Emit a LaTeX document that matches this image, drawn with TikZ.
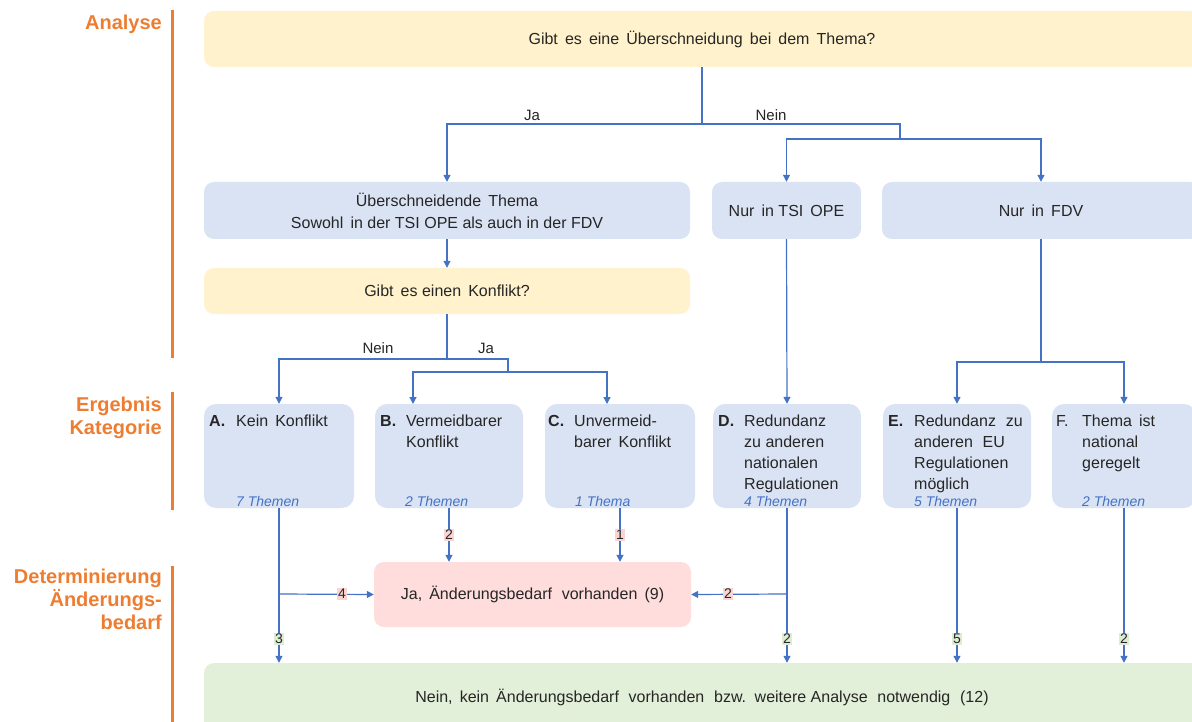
\documentclass[tikz,border=0pt]{standalone}
\usepackage{fontspec}
\setmainfont{Liberation Sans}
\usetikzlibrary{arrows.meta}
\definecolor{orangeL}{HTML}{ED7D31}
\definecolor{yellowF}{HTML}{FFF2CC}
\definecolor{blueF}{HTML}{DAE3F3}
\definecolor{pinkF}{HTML}{FFDDDD}
\definecolor{greenF}{HTML}{E2F0D9}
\definecolor{pinkN}{HTML}{FAD4D2}
\definecolor{greenN}{HTML}{DDEDD3}
\definecolor{lineB}{HTML}{4472C4}
\definecolor{txt}{HTML}{262626}
\begin{document}
\begin{tikzpicture}[x=1pt,y=-1pt,
  box/.style={rounded corners=10pt, inner sep=0pt, text=txt, align=center, font=\fontsize{16}{22}\selectfont},
  catbox/.style={rounded corners=12pt, inner sep=0pt, fill=blueF, minimum height=104pt},
  cattext/.style={anchor=north west, inner sep=0pt, align=left, text=txt, font=\fontsize{16}{21}\selectfont},
  catletter/.style={anchor=base west, inner sep=0pt, text=txt, font=\bfseries\fontsize{16}{21}\selectfont},
  themen/.style={anchor=base west, inner sep=0pt, text=lineB, font=\itshape\fontsize{14}{16}\selectfont},
  conn/.style={draw=lineB, line width=1.2pt},
  arr/.style={conn, -{Triangle[length=7pt,width=7pt]}},
  lbl/.style={font=\fontsize{15}{17}\selectfont, text=txt, inner sep=0pt},
  num/.style={font=\fontsize{14}{16}\selectfont, text=txt, inner sep=0.8pt},
  numR/.style={num, fill=pinkN},
  numG/.style={num, fill=greenN},
  sect/.style={anchor=north east, inner sep=0pt, align=right, text=orangeL, font=\bfseries\fontsize{20}{23}\selectfont},
  bar/.style={draw=orangeL, line width=3pt}
]
\useasboundingbox (0,0) rectangle (1192,722);
\clip (0,0) rectangle (1192,722);
\fill[white] (0,0) rectangle (1192,722);

% section labels
\node[sect] (S1) at (162,14) {\rule{0pt}{15pt}Analyse};
\node[sect] (S2) at (162,396) {\rule{0pt}{15pt}Ergebnis\\Kategorie};
\node[sect] (S3) at (162,568) {\rule{0pt}{15pt}Determinierung\\Änderungs-\\bedarf};
\draw[bar] (172,10) -- (172,358);
\draw[bar] (172,392) -- (172,510);
\draw[bar] (172,566) -- (172,730);

% main boxes
\node[box, fill=yellowF, minimum width=996pt, minimum height=56pt] (Q1) at (702,39) {Gibt\, es\, eine\, Überschneidung\, bei\, dem\, Thema?};
\node[box, fill=blueF, minimum width=486pt, minimum height=57pt] (U) at (447,210.5) {Überschneidende\, Thema\\Sowohl\, in der TSI OPE als auch in der FDV};
\node[box, fill=blueF, minimum width=149pt, minimum height=57pt] (T) at (786.5,210.5) {Nur\, in TSI\, OPE};
\node[box, fill=blueF, minimum width=318pt, minimum height=57pt] (F) at (1041,210.5) {Nur\, in\, FDV};
\node[box, fill=yellowF, minimum width=486pt, minimum height=46pt] (K) at (447,291) {Gibt\, es einen\, Konflikt?};
\node[box, fill=pinkF, minimum width=317pt, minimum height=65pt] (R) at (532.5,594.5) {Ja,\, Änderungsbedarf\,\, vorhanden\, (9)};
\node[box, fill=greenF, minimum width=996pt, minimum height=68pt] (G) at (702,697) {Nein,\, kein\, Änderungsbedarf\,\, vorhanden\,\, bzw.\, weitere Analyse\,\, notwendig\,\, (12)};

% category boxes
\node[catbox, minimum width=150pt] (A) at (279,456) {};
\node[catbox, minimum width=148pt] (B) at (449,456) {};
\node[catbox, minimum width=150pt] (C) at (620,456) {};
\node[catbox, minimum width=148pt] (D) at (787,456) {};
\node[catbox, minimum width=148pt] (E) at (957,456) {};
\node[catbox, minimum width=144pt] (Fc) at (1124,456) {};

\node[catletter] (Al) at (209,426) {A.};
\node[catletter] (Bl) at (380,426) {B.};
\node[catletter] (Cl) at (548,426) {C.};
\node[catletter] (Dl) at (718,426) {D.};
\node[catletter] (El) at (888,426) {E.};
\node[anchor=base west, inner sep=0pt, text=txt, font=\fontsize{16}{21}\selectfont] (Fl) at (1056,426) {F.};

\node[cattext] (At) at (236,414) {\rule{0pt}{12pt}Kein\, Konflikt};
\node[cattext] (Bt) at (406,414) {\rule{0pt}{12pt}Vermeidbarer\\Konflikt};
\node[cattext] (Ct) at (574,414) {\rule{0pt}{12pt}Unvermeid-\\barer\, Konflikt};
\node[cattext] (Dt) at (744,414) {\rule{0pt}{12pt}Redundanz\\zu anderen\\nationalen\\Regulationen};
\node[cattext] (Et) at (914,414) {\rule{0pt}{12pt}Redundanz\,\, zu\\anderen\,\, EU\\Regulationen\\möglich};
\node[cattext] (Ft) at (1082,414) {\rule{0pt}{12pt}Thema\, ist\\national\\geregelt};

\node[themen] (Ath) at (236,506) {7 Themen};
\node[themen] (Bth) at (405,506) {2 Themen};
\node[themen] (Cth) at (575,506) {1 Thema};
\node[themen] (Dth) at (744,506) {4 Themen};
\node[themen] (Eth) at (914,506) {5 Themen};
\node[themen] (Fth) at (1082,506) {2 Themen};

% connectors top
\coordinate (s1) at (702,124);
\coordinate (n1) at (900,139);
\draw[conn] (Q1.south) -- (s1);
\draw[arr] (s1) -| (U.north);
\draw[conn] (s1) -| (n1);
\draw[arr] (n1) -| (T.north);
\draw[arr] (n1) -| (F.north);
\node[lbl] (lJa1) at (532,115) {Ja};
\node[lbl] (lNein1) at (771,115) {Nein};

\draw[arr] (U.south) -- (K.north);
\coordinate (k1) at (447,359);
\coordinate (k2) at (508,372);
\coordinate (Bin) at (413,404);
\coordinate (Cin) at (607,404);
\draw[conn] (K.south) -- (k1);
\draw[arr] (k1) -| (A.north);
\draw[conn] (k1) -| (k2);
\draw[arr] (k2) -| (Bin);
\draw[arr] (k2) -| (Cin);
\node[lbl] (lNein2) at (378,348) {Nein};
\node[lbl] (lJa2) at (486,348) {Ja};

\draw[arr] (T.south) -- (D.north);
\coordinate (f1) at (1041,362);
\draw[conn] (F.south) -- (f1);
\draw[arr] (f1) -| (E.north);
\draw[arr] (f1) -| (Fc.north);

% bottom connectors
\coordinate (a1) at (279,594);
\coordinate (d1) at (787,594);
\draw[arr] (A.south) -- (A.south |- G.north);
\draw[arr] (a1) -- (R.west);
\draw[arr] (B.south) -- (B.south |- R.north);
\draw[arr] (C.south) -- (C.south |- R.north);
\draw[arr] (D.south) -- (D.south |- G.north);
\draw[arr] (d1) -- (R.east);
\draw[arr] (E.south) -- (E.south |- G.north);
\draw[arr] (Fc.south) -- (Fc.south |- G.north);

\node[numR] (nB) at (449,535) {2};
\node[numR] (nC) at (620,535) {1};
\node[numR] (nA) at (342,594) {4};
\node[numR] (nD) at (728,594) {2};
\node[numG] (gA) at (279,639) {3};
\node[numG] (gD) at (787,639) {2};
\node[numG] (gE) at (957,639) {5};
\node[numG] (gF) at (1124,639) {2};
\end{tikzpicture}
\end{document}
